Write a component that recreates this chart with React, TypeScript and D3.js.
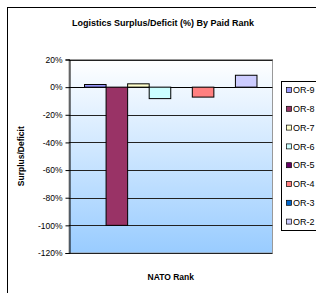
import React, { useRef, useEffect } from "react";
import * as d3 from "d3";

const series = ["OR-9", "OR-8", "OR-7", "OR-6", "OR-5", "OR-4", "OR-3", "OR-2"];
const values = [1.9, -100, 2.4, -8.3, 0, -7.2, 0, 8.6];
const colors = ["#9999FF", "#993366", "#FFFFCC", "#CCFFFF", "#660066", "#FF8080", "#0066CC", "#CCCCFF"];
const yTicks = [20, 0, -20, -40, -60, -80, -100, -120];

const W = 316;
const H = 293;

const App: React.FC = () => {
  const ref = useRef<SVGSVGElement | null>(null);

  useEffect(() => {
    const svg = d3.select(ref.current);
    svg.selectAll("*").remove();
    const font = "'Liberation Sans', Arial, sans-serif";

    const plot = { left: 69, right: 272.5, top: 59.5, bottom: 253 };

    // gradient for plot area
    const defs = svg.append("defs");
    const grad = defs
      .append("linearGradient")
      .attr("id", "bg")
      .attr("x1", 0)
      .attr("y1", 0)
      .attr("x2", 0)
      .attr("y2", 1);
    grad.append("stop").attr("offset", "0%").attr("stop-color", "#ffffff");
    grad.append("stop").attr("offset", "100%").attr("stop-color", "#99CCFF");

    // chart border
    svg
      .append("rect")
      .attr("x", 7.5)
      .attr("y", 7.5)
      .attr("width", 330)
      .attr("height", 320)
      .attr("fill", "#fff")
      .attr("stroke", "#000")
      .attr("stroke-width", 1);

    svg
      .append("text")
      .attr("x", 163)
      .attr("y", 26)
      .attr("text-anchor", "middle")
      .attr("font-family", font)
      .attr("font-weight", "bold")
      .attr("font-size", 9)
      .text("Logistics Surplus/Deficit (%) By Paid Rank");

    const y = d3.scaleLinear().domain([-120, 20]).range([plot.bottom, plot.top]);
    const x = d3
      .scaleBand<string>()
      .domain(series)
      .range([plot.left, plot.right])
      .paddingInner(0)
      .paddingOuter(0.72);

    svg
      .append("rect")
      .attr("x", plot.left)
      .attr("y", plot.top)
      .attr("width", plot.right - plot.left)
      .attr("height", plot.bottom - plot.top)
      .attr("fill", "url(#bg)")
      .attr("stroke", "#999")
      .attr("stroke-width", 1);

    // gridlines
    svg
      .append("g")
      .selectAll("line")
      .data(yTicks)
      .enter()
      .append("line")
      .attr("x1", plot.left)
      .attr("x2", plot.right)
      .attr("y1", (d) => Math.round(y(d)) + 0.5)
      .attr("y2", (d) => Math.round(y(d)) + 0.5)
      .attr("stroke", (d) => (d === 0 ? "#000" : "#222"))
      .attr("stroke-width", 1);

    // bars
    svg
      .append("g")
      .selectAll("rect")
      .data(series)
      .enter()
      .append("rect")
      .attr("x", (d) => x(d)!)
      .attr("width", x.bandwidth())
      .attr("y", (d, i) => y(Math.max(0, values[i])))
      .attr("height", (d, i) => Math.abs(y(values[i]) - y(0)))
      .attr("fill", (d, i) => colors[i])
      .attr("stroke", (d, i) => (values[i] === 0 ? "none" : "#000"))
      .attr("stroke-width", 1);

    // y axis
    const axis = svg
      .append("g")
      .attr("transform", `translate(${plot.left + 0.5},0)`)
      .call(
        d3
          .axisLeft(y)
          .tickValues(yTicks)
          .tickSize(4)
          .tickPadding(3)
          .tickFormat((d) => `${d}%`) as any,
      );
    axis.select(".domain").attr("stroke", "#000");
    axis.selectAll(".tick line").attr("stroke", "#000");
    axis
      .selectAll("text")
      .attr("font-family", font)
      .attr("font-size", 8.5)
      .attr("fill", "#000");

    svg
      .append("text")
      .attr("transform", `translate(24,${(plot.top + plot.bottom) / 2}) rotate(-90)`)
      .attr("text-anchor", "middle")
      .attr("font-family", font)
      .attr("font-weight", "bold")
      .attr("font-size", 8.5)
      .text("Surplus/Deficit");

    svg
      .append("text")
      .attr("x", (plot.left + plot.right) / 2)
      .attr("y", 280)
      .attr("text-anchor", "middle")
      .attr("font-family", font)
      .attr("font-weight", "bold")
      .attr("font-size", 8.5)
      .text("NATO Rank");

    // legend
    const lg = svg.append("g");
    lg.append("rect")
      .attr("x", 281.5)
      .attr("y", 81.5)
      .attr("width", 50)
      .attr("height", 149)
      .attr("fill", "#fff")
      .attr("stroke", "#000");
    const item = lg
      .selectAll("g")
      .data(series)
      .enter()
      .append("g")
      .attr("transform", (d, i) => `translate(286,${90 + i * 18.8})`);
    item
      .append("rect")
      .attr("x", 0.5)
      .attr("y", -2.5)
      .attr("width", 5)
      .attr("height", 5)
      .attr("fill", (d, i) => colors[i])
      .attr("stroke", "#000")
      .attr("stroke-width", 0.7);
    item
      .append("text")
      .attr("x", 7)
      .attr("y", 3.2)
      .attr("font-family", font)
      .attr("font-size", 9)
      .text((d) => d);
  }, []);

  return (
    <svg
      ref={ref}
      width={W}
      height={H}
      style={{ position: "absolute", left: 0, top: 0, display: "block" }}
    />
  );
};

export default App;
